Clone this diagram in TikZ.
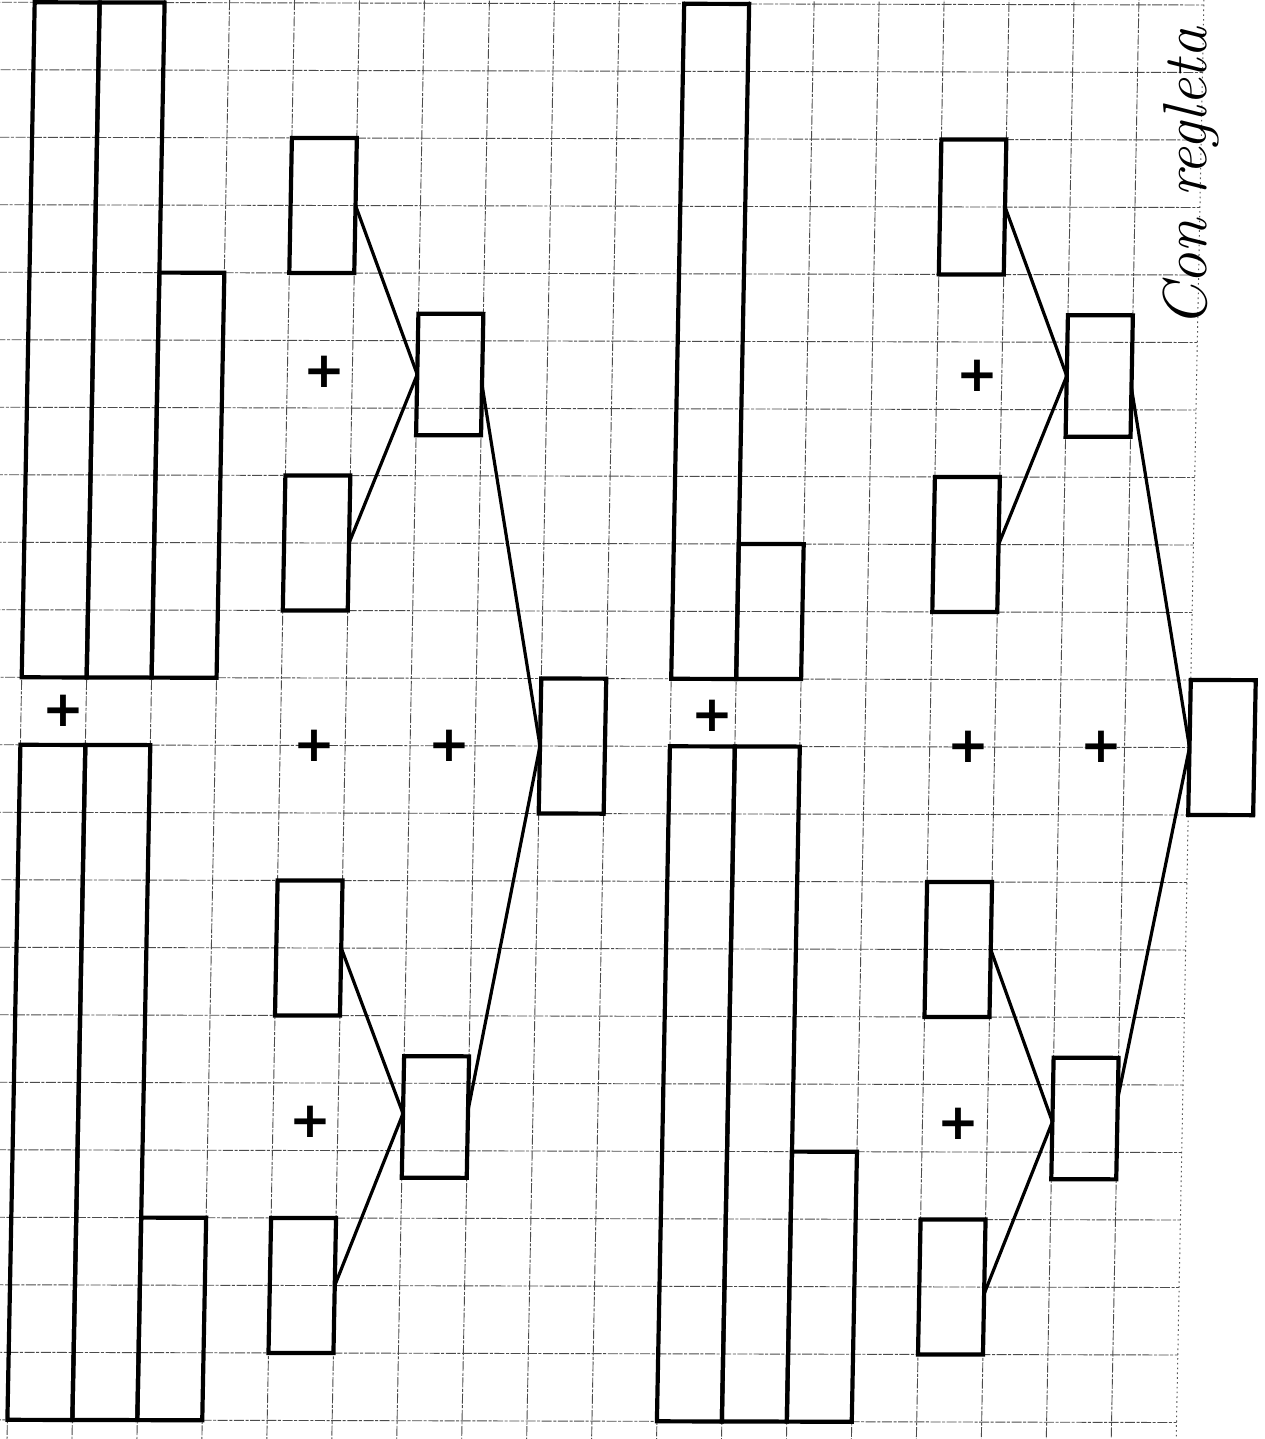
\documentclass[tikz,border=0pt]{standalone}
\usepackage{fontspec}
\newfontfamily\plusfont{DejaVu Sans}
\begin{document}
\begin{tikzpicture}[x={(32.475pt,-0.075pt)}, y={(-0.65pt,-33.75pt)},
  gridline/.style={black!70, line width=0.45pt, dash pattern=on 5pt off 0.8pt on 1.5pt off 0.8pt},
  marginline/.style={black!65, line width=0.5pt, dash pattern=on 0.8pt off 1.6pt},
  rod/.style={line width=2.1pt, line join=miter},
  link/.style={line width=1.6pt},
  plus/.style={font=\fontsize{25}{25}\selectfont\plusfont\bfseries, inner sep=0pt},
  note/.style={font=\fontsize{31}{31}\selectfont\itshape, inner sep=0pt}]
\newcommand{\rodbox}[4]{\draw[rod] (#1,#2) -- (#3,#2) -- (#3,#4) -- (#1,#4) -- cycle;}

\useasboundingbox (-17.35pt,1.15pt) rectangle (614.65pt,-718.35pt);
\clip (-17.35pt,1.15pt) rectangle (614.65pt,-718.35pt);
\fill[white] (-17.35pt,1.15pt) rectangle (614.65pt,-718.35pt);

% squared paper
\foreach \i in {-1,...,17} \draw[gridline] (\i,-1) -- (\i,22);
\draw[marginline] (18,-1) -- (18,22);
\foreach \j in {0,...,21} \draw[gridline] (-2,\j) -- (18,\j);

% ---------- left half ----------
\rodbox{0}{0}{1}{10} \rodbox{1}{0}{2}{10} \rodbox{2}{4}{3}{10}
\rodbox{0}{11}{1}{21} \rodbox{1}{11}{2}{21} \rodbox{2}{18}{3}{21}

\rodbox{4}{2}{5}{4} \rodbox{4}{7}{5}{9} \rodbox{6}{4.6}{7}{6.4}
\rodbox{4}{13}{5}{15} \rodbox{4}{18}{5}{20} \rodbox{6}{15.6}{7}{17.4}
\rodbox{8}{10}{9}{12}

\coordinate (LaT) at (5,3);
\coordinate (LaB) at (5,8);
\coordinate (LaMi) at (6,5.5);
\coordinate (LaMo) at (7,5.65);
\coordinate (LbT) at (5,14);
\coordinate (LbB) at (5,19);
\coordinate (LbMi) at (6,16.45);
\coordinate (LbMo) at (7,16.4);
\coordinate (LRes) at (8,11);
\draw[link] (LaT) -- (LaMi);
\draw[link] (LaB) -- (LaMi);
\draw[link] (LbT) -- (LbMi);
\draw[link] (LbB) -- (LbMi);
\draw[link] (LaMo) -- (LRes);
\draw[link] (LbMo) -- (LRes);

\node[plus] (lp1) at (0.66,10.5) {+};
\node[plus] (lp2) at (4.57,5.47) {+};
\node[plus] (lp3) at (4.52,11) {+};
\node[plus] (lp4) at (6.6,11) {+};
\node[plus] (lp5) at (4.57,16.57) {+};

% ---------- right half ----------
\rodbox{10}{0}{11}{10} \rodbox{11}{8}{12}{10}
\rodbox{10}{11}{11}{21} \rodbox{11}{11}{12}{21} \rodbox{12}{17}{13}{21}

\rodbox{14}{2}{15}{4} \rodbox{14}{7}{15}{9} \rodbox{16}{4.6}{17}{6.4}
\rodbox{14}{13}{15}{15} \rodbox{14}{18}{15}{20} \rodbox{16}{15.6}{17}{17.4}
\rodbox{18}{10}{19}{12}

\coordinate (RaT) at (15,3);
\coordinate (RaB) at (15,8);
\coordinate (RaMi) at (16,5.5);
\coordinate (RaMo) at (17,5.68);
\coordinate (RbT) at (15,14);
\coordinate (RbB) at (15,19.1);
\coordinate (RbMi) at (16,16.55);
\coordinate (RbMo) at (17,16.2);
\coordinate (RRes) at (18,11);
\draw[link] (RaT) -- (RaMi);
\draw[link] (RaB) -- (RaMi);
\draw[link] (RbT) -- (RbMi);
\draw[link] (RbB) -- (RbMi);
\draw[link] (RaMo) -- (RRes);
\draw[link] (RbMo) -- (RRes);

\node[plus] (rp1) at (10.64,10.55) {+};
\node[plus] (rp2) at (14.63,5.5) {+};
\node[plus] (rp3) at (14.59,11) {+};
\node[plus] (rp4) at (16.65,11) {+};
\node[plus] (rp5) at (14.55,16.58) {+};

% handwritten note
\node[note, rotate=90, anchor=base west] (title) at (586pt,-163pt) {Con regleta};
\end{tikzpicture}
\end{document}
